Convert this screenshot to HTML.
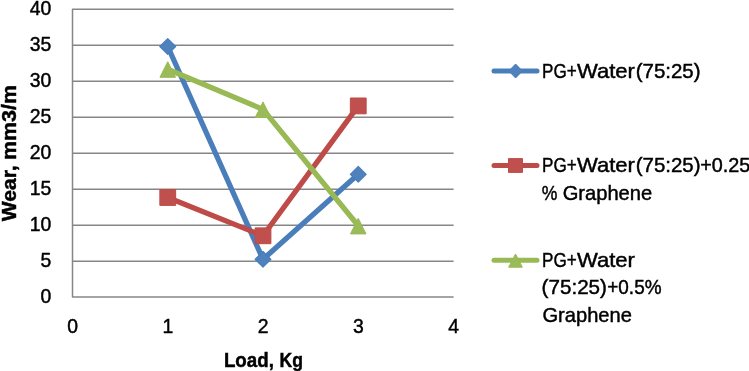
<!DOCTYPE html>
<html>
<head>
<meta charset="utf-8">
<title>Wear vs Load</title>
<style>
html,body{margin:0;padding:0;background:#fff;}
body{width:749px;height:371px;overflow:hidden;}
svg{display:block;}
text{font-family:"Liberation Sans",sans-serif;fill:#000;}
.b{font-weight:bold;}
text{stroke:#000;stroke-width:0.45px;}
</style>
</head>
<body>
<svg width="749" height="371" viewBox="0 0 749 371">
<rect x="0" y="0" width="749" height="371" fill="#ffffff"/>
<!-- gridlines -->
<g stroke="#868686" stroke-width="1.5" fill="none" stroke-linecap="butt" stroke-linejoin="round">
<line x1="72.5" y1="45.2" x2="453.6" y2="45.2"/>
<line x1="72.5" y1="81.2" x2="453.6" y2="81.2"/>
<line x1="72.5" y1="117.2" x2="453.6" y2="117.2"/>
<line x1="72.5" y1="153.2" x2="453.6" y2="153.2"/>
<line x1="72.5" y1="189.2" x2="453.6" y2="189.2"/>
<line x1="72.5" y1="225.2" x2="453.6" y2="225.2"/>
<line x1="72.5" y1="261.2" x2="453.6" y2="261.2"/>
<path d="M453.6 9.2 H72.5 V297.1 H453.6"/>
</g>
<!-- series -->
<g fill="none" stroke-width="5.3" stroke-linecap="round" stroke-linejoin="round">
<polyline stroke="#4a7ebb" points="167.75,46.5 263,259.3 358.25,174.3"/>
</g>
<g fill="#4f81bd" stroke="#4a7ebb" stroke-width="1.2" stroke-linejoin="round">
<path d="M167.75 38.60 L175.65 46.50 L167.75 54.40 L159.85 46.50Z"/>
<path d="M263.00 251.40 L270.90 259.30 L263.00 267.20 L255.10 259.30Z"/>
<path d="M358.25 166.40 L366.15 174.30 L358.25 182.20 L350.35 174.30Z"/>
</g>
<g fill="none" stroke-width="5.3" stroke-linecap="round" stroke-linejoin="round">
<polyline stroke="#be4b48" points="167.75,197.5 263,235.8 358.25,105.9"/>
</g>
<g fill="#c0504d" stroke="#be4b48" stroke-width="1" stroke-linejoin="round">
<rect x="159.85" y="189.6" width="15.8" height="15.8"/>
<rect x="255.1" y="227.9" width="15.8" height="15.8"/>
<rect x="350.35" y="98" width="15.8" height="15.8"/>
</g>
<g fill="none" stroke-width="5.3" stroke-linecap="round" stroke-linejoin="round">
<polyline stroke="#98b954" points="167.75,69.2 263,109.4 358.25,225.8"/>
</g>
<g fill="#9bbb59" stroke="#98b954" stroke-width="1" stroke-linejoin="round">
<path d="M167.75 61.72 L175.54 77.30 L159.96 77.30Z"/>
<path d="M263.00 101.92 L270.79 117.50 L255.21 117.50Z"/>
<path d="M358.25 218.32 L366.04 233.90 L350.46 233.90Z"/>
</g>
<!-- y labels -->
<g font-size="20.6" text-anchor="end">
<text x="51.4" y="15.2" textLength="21.6" lengthAdjust="spacingAndGlyphs">40</text>
<text x="51.4" y="51.2" textLength="21.6" lengthAdjust="spacingAndGlyphs">35</text>
<text x="51.4" y="87.2" textLength="21.6" lengthAdjust="spacingAndGlyphs">30</text>
<text x="51.4" y="123.2" textLength="21.6" lengthAdjust="spacingAndGlyphs">25</text>
<text x="51.4" y="159.2" textLength="21.6" lengthAdjust="spacingAndGlyphs">20</text>
<text x="51.4" y="195.2" textLength="21.6" lengthAdjust="spacingAndGlyphs">15</text>
<text x="51.4" y="231.2" textLength="21.6" lengthAdjust="spacingAndGlyphs">10</text>
<text x="51.4" y="267.2" textLength="10.8" lengthAdjust="spacingAndGlyphs">5</text>
<text x="51.4" y="303.1" textLength="10.8" lengthAdjust="spacingAndGlyphs">0</text>
</g>
<!-- x labels -->
<g font-size="20.6" text-anchor="middle">
<text x="72.7" y="333" textLength="10.8" lengthAdjust="spacingAndGlyphs">0</text>
<text x="168" y="333" textLength="10.8" lengthAdjust="spacingAndGlyphs">1</text>
<text x="263.1" y="333" textLength="10.8" lengthAdjust="spacingAndGlyphs">2</text>
<text x="358.4" y="333" textLength="10.8" lengthAdjust="spacingAndGlyphs">3</text>
<text x="453.6" y="333" textLength="10.8" lengthAdjust="spacingAndGlyphs">4</text>
</g>
<!-- axis titles -->
<text class="b" font-size="19.3" y="367.3"><tspan x="223.9" textLength="49.97" lengthAdjust="spacingAndGlyphs">Load,</tspan><tspan x="274" textLength="5" lengthAdjust="spacingAndGlyphs"> </tspan><tspan x="279.5" textLength="23.43" lengthAdjust="spacingAndGlyphs">Kg</tspan></text>
<text class="b" font-size="19.3" transform="translate(16.1 221.5) rotate(-90)" y="0"><tspan x="0.25" textLength="55.77" lengthAdjust="spacingAndGlyphs">Wear,</tspan><tspan x="56.2" textLength="5" lengthAdjust="spacingAndGlyphs"> </tspan><tspan x="61.55" textLength="74.89" lengthAdjust="spacingAndGlyphs">mm3/m</tspan></text>
<!-- legend -->
<g fill="none" stroke-width="5" stroke-linecap="round">
<line x1="494" y1="71" x2="537" y2="71" stroke="#4a7ebb"/>
<line x1="494" y1="165.5" x2="537" y2="165.5" stroke="#be4b48"/>
<line x1="494" y1="260.3" x2="537" y2="260.3" stroke="#98b954"/>
</g>
<path fill="#4f81bd" stroke="#4a7ebb" stroke-width="1" stroke-linejoin="round" d="M515.6 64 L522.4 71 L515.6 78 L508.8 71Z"/>
<rect fill="#c0504d" stroke="#be4b48" stroke-width="1" stroke-linejoin="round" x="508.5" y="158.6" width="14" height="13.8"/>
<g fill="#9bbb59" stroke="#98b954" stroke-width="1" stroke-linejoin="round"><path d="M515.50 253.99 L522.33 267.20 L508.67 267.20Z"/></g>
<g font-size="20.2">
<text y="77.6"><tspan x="542.05" textLength="34.68" lengthAdjust="spacingAndGlyphs">PG+</tspan><tspan x="576.95" textLength="57.98" lengthAdjust="spacingAndGlyphs">Water</tspan><tspan x="635.7" textLength="64.85" lengthAdjust="spacingAndGlyphs">(75:25)</tspan></text>
<text y="171.9"><tspan x="542.05" textLength="34.68" lengthAdjust="spacingAndGlyphs">PG+</tspan><tspan x="576.95" textLength="57.98" lengthAdjust="spacingAndGlyphs">Water</tspan><tspan x="635.7" textLength="64.85" lengthAdjust="spacingAndGlyphs">(75:25)</tspan><tspan x="700.25" textLength="50.12" lengthAdjust="spacingAndGlyphs">+0.25</tspan></text>
<text y="200.1"><tspan x="541.8" textLength="15.63" lengthAdjust="spacingAndGlyphs">%</tspan><tspan x="557.5" textLength="5" lengthAdjust="spacingAndGlyphs"> </tspan><tspan x="562.65" textLength="89.59" lengthAdjust="spacingAndGlyphs">Graphene</tspan></text>
<text y="266.5"><tspan x="542.05" textLength="34.68" lengthAdjust="spacingAndGlyphs">PG+</tspan><tspan x="576.95" textLength="57.98" lengthAdjust="spacingAndGlyphs">Water</tspan></text>
<text y="294.3"><tspan x="541.6" textLength="65.36" lengthAdjust="spacingAndGlyphs">(75:25)</tspan><tspan x="607.25" textLength="54.28" lengthAdjust="spacingAndGlyphs">+0.5%</tspan></text>
<text y="321.9"><tspan x="542.45" textLength="89.44" lengthAdjust="spacingAndGlyphs">Graphene</tspan></text>
</g>
</svg>
</body>
</html>
